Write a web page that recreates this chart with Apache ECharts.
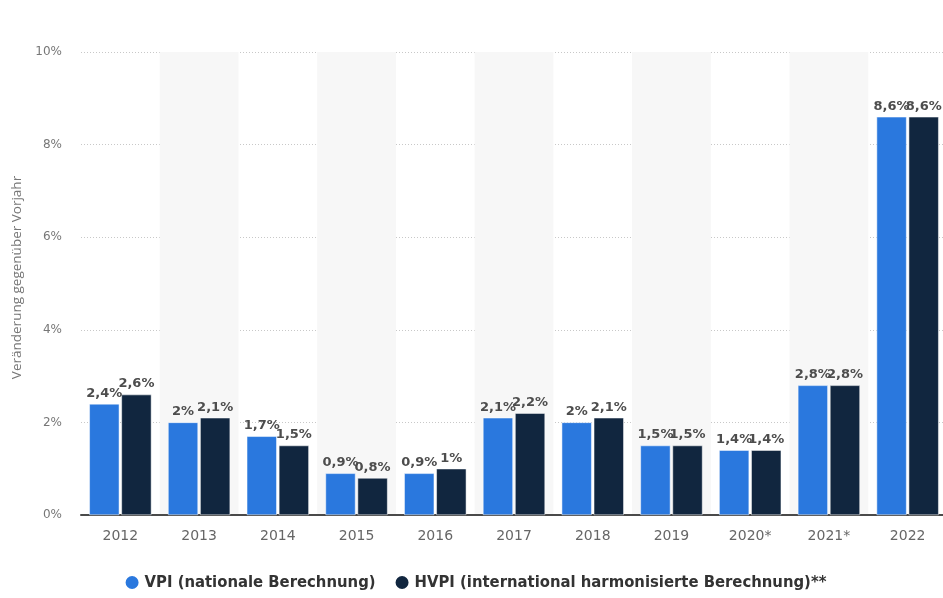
<!DOCTYPE html>
<html><head><meta charset="utf-8">
<script src="https://cdn.jsdelivr.net/npm/echarts@6/dist/echarts.min.js"></script>
<style>html,body{margin:0;padding:0;background:#fff;overflow:hidden}#c{width:950px;height:598px}</style>
</head><body><div id="c"></div>
<script>
const categories = ['2012','2013','2014','2015','2016','2017','2018','2019','2020*','2021*','2022'];
const vpi = [2.4, 2.0, 1.7, 0.9, 0.9, 2.1, 2.0, 1.5, 1.4, 2.8, 8.6];
const hvpi = [2.6, 2.1, 1.5, 0.8, 1.0, 2.2, 2.1, 1.5, 1.4, 2.8, 8.6];
const seriesNames = ['VPI (nationale Berechnung)', 'HVPI (international harmonisierte Berechnung)**'];
const yTicks = [0, 2, 4, 6, 8, 10];

const fmt = v => String(v).replace('.', ',') + '%';
const DJ = '"DejaVu Sans", sans-serif';
const DJC = '"DejaVu Sans Condensed", "DejaVu Sans", sans-serif';
const labelCfg = {
  show: true, position: 'top', distance: 4,
  formatter: p => fmt(p.value),
  color: '#4d4d4d', fontWeight: 'bold', fontSize: 13, fontFamily: DJ
};
const chart = echarts.init(document.getElementById('c'), null, {renderer: 'canvas'});
chart.setOption({
  animation: false,
  textStyle: {fontFamily: DJ},
  grid: {left: 81, width: 866, top: 52, height: 463},
  legend: {
    bottom: 2, left: 'center', icon: 'circle', itemWidth: 15, itemHeight: 15, itemGap: 18,
    textStyle: {color: '#333', fontSize: 16.5, fontWeight: 'bold', fontFamily: DJC},
    data: seriesNames
  },
  xAxis: {
    type: 'category', data: categories,
    axisLine: {lineStyle: {color: '#4a4a4a', width: 2}},
    axisTick: {show: false},
    axisLabel: {color: '#666', fontSize: 14, margin: 14, fontFamily: DJ},
    splitArea: {show: true, areaStyle: {color: ['rgba(0,0,0,0)', '#f7f7f7']}}
  },
  yAxis: {
    type: 'value', min: yTicks[0], max: yTicks[yTicks.length - 1], interval: 2,
    name: 'Veränderung gegenüber Vorjahr', nameLocation: 'middle', nameGap: 57, nameRotate: 90,
    nameTextStyle: {color: '#777', fontSize: 13.5, fontFamily: '"Open Sans", sans-serif', padding: [0, 0, 0, 12]},
    axisLine: {show: false}, axisTick: {show: false},
    axisLabel: {color: '#777', fontSize: 12, margin: 19, formatter: v => v + '%', fontFamily: DJ},
    splitLine: {lineStyle: {color: '#c8c8c8', type: [1, 2], width: 1}}
  },
  series: [
    {name: seriesNames[0], type: 'bar', data: vpi, barWidth: 30, barGap: '7%',
     itemStyle: {color: '#2a78de', borderColor: '#ffffff', borderWidth: 0.5}, label: labelCfg},
    {name: seriesNames[1], type: 'bar', data: hvpi, barWidth: 30,
     itemStyle: {color: '#11263f', borderColor: '#ffffff', borderWidth: 0.5}, label: labelCfg}
  ]
});
</script></body></html>
